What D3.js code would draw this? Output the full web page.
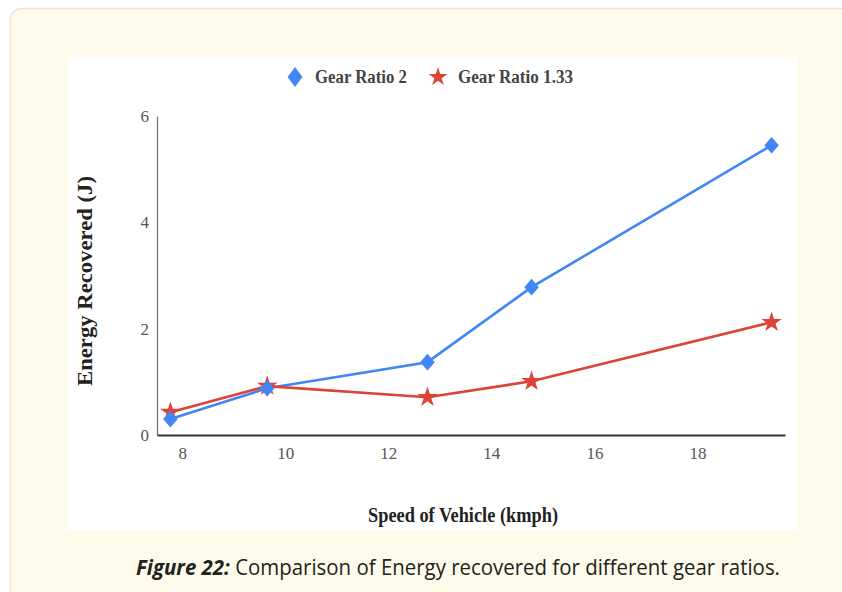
<!DOCTYPE html>
<html>
<head>
<meta charset="utf-8">
<script src="https://cdn.jsdelivr.net/npm/d3@7"></script>
<style>
  html, body { margin: 0; padding: 0; background: #ffffff; }
  svg { display: block; }
</style>
</head>
<body>
<script>
// values
var speed = [7.77, 9.65, 12.76, 14.78, 19.44];
var gearRatio2 = [0.30, 0.88, 1.37, 2.78, 5.45];
var gearRatio133 = [0.43, 0.92, 0.71, 1.01, 2.12];
var xTicks = [8, 10, 12, 14, 16, 18];
var yTicks = [0, 2, 4, 6];
var seriesNames = ["Gear Ratio 2", "Gear Ratio 1.33"];
var colors = ["#4285f4", "#db4437"];

var width = 842;
var height = 592;
var serif = "'Liberation Serif', 'DejaVu Serif', serif";

var svg = d3.select("body")
    .append("svg")
    .attr("width", width)
    .attr("height", height);

// card behind the figure
svg.append("rect")
    .attr("x", 10.5).attr("y", 8.5)
    .attr("width", 860).attr("height", 620)
    .attr("rx", 11)
    .style("fill", "#fffbeb")
    .style("stroke", "#ece8d8")
    .style("stroke-width", 1.5);

// white chart panel
svg.append("rect")
    .attr("x", 68).attr("y", 57)
    .attr("width", 729).attr("height", 473)
    .style("fill", "#ffffff");

var x = d3.scaleLinear().domain([7.51, 19.7]).range([157, 785]);
var y = d3.scaleLinear().domain([0, 6]).range([435, 116]);

// y axis
var yAxis = svg.append("g")
    .attr("transform", "translate(157,0)")
    .call(d3.axisLeft(y).tickValues(yTicks).tickSize(0).tickPadding(8).tickFormat(d3.format("d")));
yAxis.select(".domain").style("stroke", "#777").style("stroke-width", 1.3);
yAxis.selectAll("text")
    .style("font-family", serif)
    .style("font-size", "17px")
    .style("fill", "#555");

// x axis
var xAxis = svg.append("g")
    .attr("transform", "translate(0,435)")
    .call(d3.axisBottom(x).tickValues(xTicks).tickSize(0).tickPadding(12).tickFormat(d3.format("d")));
xAxis.select(".domain").style("stroke", "#333").style("stroke-width", 2);
xAxis.selectAll("text")
    .style("font-family", serif)
    .style("font-size", "17px")
    .style("fill", "#555");

// lines
var line = d3.line()
    .x(function(d) { return x(d[0]); })
    .y(function(d) { return y(d[1]); });

var series = [gearRatio2, gearRatio133].map(function(vals) {
    return vals.map(function(v, i) { return [speed[i], v]; });
});

series.forEach(function(pts, k) {
    svg.append("path")
        .datum(pts)
        .attr("d", line)
        .style("fill", "none")
        .style("stroke", colors[k])
        .style("stroke-width", 2.6);
});

var diamond = d3.symbol().type(d3.symbolSquare).size(105);
var star = d3.symbol().type(d3.symbolStar).size(130);

svg.selectAll(".star")
    .data(series[1])
    .enter()
    .append("path")
    .attr("class", "star")
    .attr("d", star)
    .attr("transform", function(d) { return "translate(" + x(d[0]) + "," + y(d[1]) + ")"; })
    .style("fill", colors[1]);

svg.selectAll(".diamond")
    .data(series[0])
    .enter()
    .append("path")
    .attr("class", "diamond")
    .attr("d", diamond)
    .attr("transform", function(d) { return "translate(" + x(d[0]) + "," + y(d[1]) + ") scale(1,1.15) rotate(45)"; })
    .style("fill", colors[0]);

// legend
svg.append("path")
    .attr("d", d3.symbol().type(d3.symbolSquare).size(110))
    .attr("transform", "translate(295,77) scale(1,1.35) rotate(45)")
    .style("fill", colors[0]);
svg.append("text")
    .attr("x", 315).attr("y", 83)
    .attr("textLength", 92)
    .attr("lengthAdjust", "spacingAndGlyphs")
    .style("font-family", serif)
    .style("font-weight", "bold")
    .style("font-size", "18px")
    .style("fill", "#444")
    .text(seriesNames[0]);
svg.append("path")
    .attr("d", d3.symbol().type(d3.symbolStar).size(110))
    .attr("transform", "translate(438,77)")
    .style("fill", colors[1]);
svg.append("text")
    .attr("x", 458).attr("y", 83)
    .attr("textLength", 115)
    .attr("lengthAdjust", "spacingAndGlyphs")
    .style("font-family", serif)
    .style("font-weight", "bold")
    .style("font-size", "18px")
    .style("fill", "#444")
    .text(seriesNames[1]);

// axis titles
svg.append("text")
    .attr("transform", "translate(92,281) rotate(-90)")
    .attr("text-anchor", "middle")
    .attr("textLength", 210)
    .attr("lengthAdjust", "spacingAndGlyphs")
    .style("font-family", serif)
    .style("font-weight", "bold")
    .style("font-size", "21px")
    .style("fill", "#222")
    .text("Energy Recovered (J)");

svg.append("text")
    .attr("x", 463).attr("y", 522)
    .attr("text-anchor", "middle")
    .attr("textLength", 190)
    .attr("lengthAdjust", "spacingAndGlyphs")
    .style("font-family", serif)
    .style("font-weight", "bold")
    .style("font-size", "21px")
    .style("fill", "#222")
    .text("Speed of Vehicle (kmph)");

// caption
var caption = svg.append("text")
    .attr("x", 458).attr("y", 575)
    .attr("text-anchor", "middle")
    .attr("textLength", 644)
    .attr("lengthAdjust", "spacingAndGlyphs")
    .style("font-family", "'Open Sans', sans-serif")
    .style("font-size", "21px")
    .style("fill", "#222");
caption.append("tspan")
    .style("font-weight", "bold")
    .style("font-style", "italic")
    .text("Figure 22:");
caption.append("tspan")
    .text(" Comparison of Energy recovered for different gear ratios.");
</script>
</body>
</html>
